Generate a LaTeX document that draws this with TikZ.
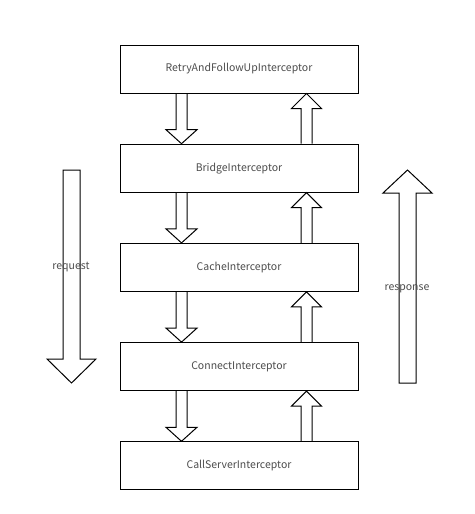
\documentclass[tikz,border=0pt]{standalone}
\usepackage{fontspec}
\setmainfont{Noto Sans CJK SC}
\usetikzlibrary{calc}
\usetikzlibrary{positioning}
\tikzset{
  interceptor/.style={draw, line width=1pt, minimum width=238pt, minimum height=48pt, inner sep=0pt, text=black!70, font=\fontsize{10.5}{12}\selectfont},
  block/.style={draw, line width=1pt, line join=miter},
  flowlabel/.style={text=black!70, font=\fontsize{10.5}{12}\selectfont, inner sep=0pt}
}
\newcommand{\downblock}[2]{ % #1: upper box, #2: lower box
  \coordinate (dtop) at ($(#1.south)+(-57.5,0)$); % shaft starts under the upper box
  \coordinate (dtip) at ($(#2.north)+(-57.5,0)$); % tip touches the lower box
  \draw[block] ($(dtop)+(-5.5,0)$) -- ($(dtip)+(-5.5,-14)$) -- ($(dtip)+(-15.5,-14)$) -- (dtip) -- ($(dtip)+(15.5,-14)$) -- ($(dtip)+(5.5,-14)$) -- ($(dtop)+(5.5,0)$);
}
\newcommand{\upblock}[2]{ % #1: lower box, #2: upper box
  \coordinate (ubot) at ($(#1.north)+(67.5,0)$); % shaft starts on the lower box
  \coordinate (utip) at ($(#2.south)+(67.5,0)$); % tip touches the upper box
  \draw[block] ($(ubot)+(-5.5,0)$) -- ($(utip)+(-5.5,15)$) -- ($(utip)+(-15,15)$) -- (utip) -- ($(utip)+(15,15)$) -- ($(utip)+(5.5,15)$) -- ($(ubot)+(5.5,0)$);
}

\begin{document}
\begin{tikzpicture}[x=1pt, y=-1pt]
\useasboundingbox (0,0) rectangle (474,514);

% Interceptor chain, top to bottom
\node[interceptor] (retry) at (239,69) {RetryAndFollowUpInterceptor};
\node[interceptor, below=50.2pt of retry] (bridge) {BridgeInterceptor};
\node[interceptor, below=50.2pt of bridge] (cache) {CacheInterceptor};
\node[interceptor, below=50.2pt of cache] (connect) {ConnectInterceptor};
\node[interceptor, below=50.2pt of connect] (callserver) {CallServerInterceptor};

% Block arrows between neighbouring boxes
\foreach \a/\b in {retry/bridge, bridge/cache, cache/connect, connect/callserver}
{
    \downblock{\a}{\b}
    \upblock{\b}{\a}
}

% Big request arrow on the left
\draw[block] (63,170) -- (63,359) -- (47,359) -- (71.5,383) -- (96,359) -- (80,359) -- (80,170) -- cycle;
\node[flowlabel] (request) at (71,267) {request};

% Big response arrow on the right
\draw[block] (399,383) -- (399,193) -- (383,193) -- (407.5,170) -- (432,193) -- (416,193) -- (416,383) -- cycle;
\node[flowlabel] (response) at (407,289) {response};

\end{tikzpicture}
\end{document}
